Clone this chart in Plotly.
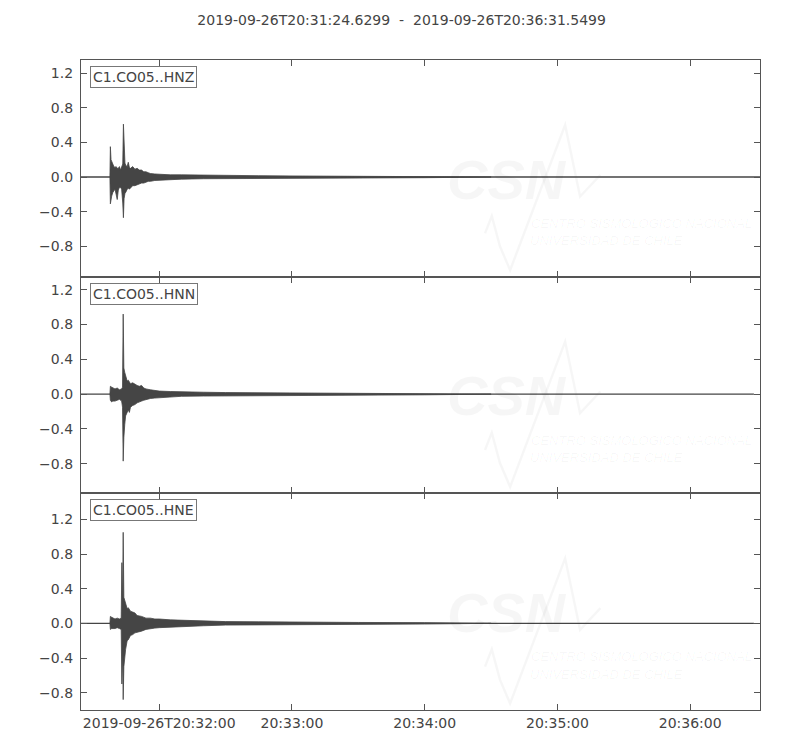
import pandas as pd
import plotly.graph_objects as go
from plotly.subplots import make_subplots

# ---------------- data ----------------
title_text = "2019-09-26T20:31:24.6299  -  2019-09-26T20:36:31.5499"
t_start = "2019-09-26 20:31:24.6299"
t_end = "2019-09-26 20:36:31.5499"
ref_time = "2019-09-26 20:32:00"          # offsets below are seconds from this time

channels = ["C1.CO05..HNZ", "C1.CO05..HNN", "C1.CO05..HNE"]

# envelope of each trace (seconds from ref_time, upper and lower amplitude)
hnz_t = [-22.3, -22.1, -21.8, -21.5, -21.0, -20.5, -20.0, -19.5, -19.0, -18.5, -18.0, -17.5,
         -17.0, -16.5, -16.2, -15.9, -15.5, -15.0, -14.5, -14.0, -13.5, -13.0, -12.0, -11.0,
         -10.0, -9.0, -8.0, -7.0, -6.0, -5.0, -4.0, -2.0, 0.0, 5.0, 10.0, 20.0, 30.0, 45.0,
         60.0, 90.0, 120.0, 150.0]
hnz_up = [0.0, 0.35, 0.20, 0.17, 0.15, 0.12, 0.11, 0.12, 0.10, 0.10, 0.12, 0.08,
          0.13, 0.15, 0.61, 0.25, 0.16, 0.13, 0.12, 0.17, 0.11, 0.10, 0.12, 0.09,
          0.10, 0.08, 0.08, 0.06, 0.06, 0.05, 0.04, 0.035, 0.03, 0.025, 0.025, 0.02, 0.018, 0.015,
          0.012, 0.01, 0.008, 0.0]
hnz_lo = [0.0, -0.31, -0.30, -0.22, -0.18, -0.16, -0.14, -0.20, -0.26, -0.15, -0.12, -0.12,
          -0.14, -0.30, -0.47, -0.25, -0.19, -0.17, -0.14, -0.13, -0.14, -0.12, -0.10, -0.10,
          -0.09, -0.08, -0.07, -0.07, -0.06, -0.05, -0.05, -0.04, -0.035, -0.03, -0.025, -0.02, -0.018, -0.015,
          -0.012, -0.01, -0.008, 0.0]

hnn_t = [-22.3, -22.1, -21.5, -21.0, -20.0, -19.0, -18.0, -17.0, -16.6, -16.3, -16.0, -15.6,
         -15.2, -14.5, -14.0, -13.5, -13.0, -12.0, -11.0, -10.0, -9.0, -8.0, -7.0, -6.0,
         -4.0, -2.0, 0.0, 5.0, 10.0, 20.0, 30.0, 45.0, 60.0, 90.0, 120.0, 150.0]
hnn_up = [0.0, 0.09, 0.08, 0.07, 0.06, 0.07, 0.05, 0.06, 0.08, 0.92, 0.30, 0.25,
          0.20, 0.15, 0.16, 0.14, 0.12, 0.13, 0.11, 0.10, 0.09, 0.10, 0.07, 0.06,
          0.05, 0.04, 0.035, 0.03, 0.03, 0.022, 0.018, 0.015, 0.012, 0.01, 0.008, 0.0]
hnn_lo = [0.0, -0.07, -0.09, -0.08, -0.08, -0.07, -0.06, -0.08, -0.15, -0.77, -0.50, -0.35,
          -0.25, -0.22, -0.18, -0.21, -0.15, -0.13, -0.12, -0.10, -0.09, -0.08, -0.07, -0.06,
          -0.05, -0.045, -0.04, -0.03, -0.025, -0.022, -0.018, -0.015, -0.012, -0.01, -0.008, 0.0]

hne_t = [-22.3, -22.1, -21.5, -20.0, -19.0, -18.0, -17.2, -16.9, -16.6, -16.3, -16.0, -15.6,
         -15.2, -14.5, -14.0, -13.0, -12.0, -11.0, -10.0, -8.0, -6.0, -4.0, -2.0, 0.0,
         5.0, 10.0, 20.0, 30.0, 45.0, 60.0, 90.0, 120.0, 150.0]
hne_up = [0.0, 0.08, 0.07, 0.05, 0.06, 0.05, 0.06, 0.70, 0.20, 1.05, 0.30, 0.27,
          0.22, 0.17, 0.18, 0.14, 0.13, 0.12, 0.09, 0.08, 0.06, 0.06, 0.05, 0.05,
          0.04, 0.035, 0.025, 0.02, 0.018, 0.014, 0.01, 0.008, 0.0]
hne_lo = [0.0, -0.07, -0.06, -0.06, -0.05, -0.06, -0.07, -0.70, -0.30, -0.88, -0.50, -0.42,
          -0.30, -0.20, -0.19, -0.14, -0.13, -0.11, -0.10, -0.09, -0.07, -0.06, -0.055, -0.05,
          -0.04, -0.035, -0.028, -0.02, -0.018, -0.014, -0.01, -0.008, 0.0]

trace_end = [271.55, 268.8, 268.8]        # seconds from ref_time where each trace stops

y_ranges = [[-1.15, 1.35], [-1.14, 1.35], [-1.0, 1.5]]
y_ticks = [-0.8, -0.4, 0.0, 0.4, 0.8, 1.2]
x_tick_times = ["2019-09-26 20:32:00", "2019-09-26 20:33:00", "2019-09-26 20:34:00",
                "2019-09-26 20:35:00", "2019-09-26 20:36:00"]
x_tick_labels = ["2019-09-26T20:32:00", "20:33:00", "20:34:00", "20:35:00", "20:36:00"]

# ---------------- figure ----------------
ref = pd.Timestamp(ref_time)
start = pd.Timestamp(t_start)


def to_time(offsets):
    return [ref + pd.to_timedelta(o, unit="s") for o in offsets]


envelopes = [(hnz_t, hnz_up, hnz_lo), (hnn_t, hnn_up, hnn_lo), (hne_t, hne_up, hne_lo)]

TRACE = "#454545"
AXIS = "#555555"
TEXT = "#444444"
WM = "rgba(0,0,0,0.035)"

FIG_W, FIG_H = 792, 742   # page body adds an 8px margin

fig = make_subplots(rows=3, cols=1, shared_xaxes=True, vertical_spacing=0)

for i, (tt, up, lo) in enumerate(envelopes):
    row = i + 1
    fig.add_trace(go.Scatter(
        x=[start, ref + pd.to_timedelta(trace_end[i], unit="s")], y=[0, 0],
        mode="lines", line=dict(color=TRACE, width=1.4), hoverinfo="skip",
        showlegend=False), row=row, col=1)
    xs = to_time(tt) + to_time(tt[::-1])
    ys = list(up) + list(lo[::-1])
    fig.add_trace(go.Scatter(
        x=xs, y=ys, mode="lines", fill="toself", fillcolor=TRACE,
        line=dict(color=TRACE, width=0.8), hoverinfo="skip",
        showlegend=False), row=row, col=1)

axis_common = dict(showline=True, linecolor=AXIS, linewidth=1.3, mirror="ticks",
                   ticks="inside", ticklen=6, tickcolor=AXIS, tickwidth=1,
                   showgrid=False, zeroline=False, automargin=False)

for i in range(3):
    row = i + 1
    fig.update_yaxes(range=y_ranges[i], tickvals=y_ticks, tickformat=".1f",
                     tickfont=dict(family="DejaVu Sans", size=14, color=TEXT),
                     ticklabelstandoff=4, row=row, col=1, **axis_common)
    fig.update_xaxes(type="date", range=[start, pd.Timestamp(t_end)],
                     tickvals=[pd.Timestamp(v) for v in x_tick_times],
                     ticktext=x_tick_labels, showticklabels=(row == 3),
                     tickfont=dict(family="DejaVu Sans", size=14, color=TEXT),
                     row=row, col=1, **axis_common)

for i in range(3):
    suffix = "" if i == 0 else str(i + 1)
    xr = "x" + suffix + " domain"
    yr = "y" + suffix + " domain"
    fig.add_annotation(text=channels[i], xref=xr, yref=yr, x=0.013, y=0.972,
                       xanchor="left", yanchor="top", showarrow=False,
                       font=dict(family="DejaVu Sans", size=14, color=TEXT),
                       bgcolor="white", bordercolor="#777777", borderwidth=1, borderpad=2)
    fig.add_shape(type="path", xref=xr, yref=yr, layer="below",
                  path="M 0.595 0.20 L 0.605 0.28 L 0.617 0.14 L 0.632 0.03 L 0.713 0.70 L 0.735 0.37 L 0.765 0.47",
                  line=dict(color=WM, width=2.5))
    fig.add_annotation(text="<b><i>CSN</i></b>", xref=xr, yref=yr, x=0.627, y=0.45,
                       xanchor="center", yanchor="middle", showarrow=False,
                       font=dict(family="Liberation Sans", size=56, color=WM))
    fig.add_annotation(text="<i>CENTRO SISMOLÓGICO NACIONAL</i>", xref=xr, yref=yr,
                       x=0.66, y=0.245, xanchor="left", yanchor="middle", showarrow=False,
                       font=dict(family="Liberation Sans", size=13, color=WM))
    fig.add_annotation(text="<i>UNIVERSIDAD DE CHILE</i>", xref=xr, yref=yr,
                       x=0.658, y=0.165, xanchor="left", yanchor="middle", showarrow=False,
                       font=dict(family="Liberation Sans", size=13, color=WM))

fig.update_layout(
    width=FIG_W, height=FIG_H,
    margin=dict(l=73, r=40, t=52, b=40),
    paper_bgcolor="white", plot_bgcolor="white",
    title=dict(text=title_text, x=0.497, xref="container", y=1 - 12 / FIG_H,
               yref="container", xanchor="center", yanchor="middle",
               font=dict(family="DejaVu Sans", size=14, color=TEXT)),
    showlegend=False,
)

fig.write_html("out.html")
